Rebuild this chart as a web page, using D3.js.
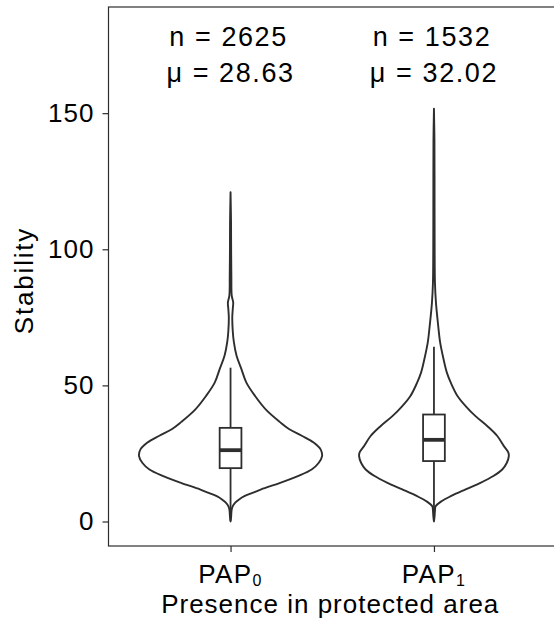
<!DOCTYPE html>
<html>
<head>
<meta charset="utf-8">
<script src="https://cdn.jsdelivr.net/npm/d3@7"></script>
<style>
  html, body { margin: 0; padding: 0; background: #fff; overflow: hidden; }
  svg { display: block; }
  text { font-family: "Liberation Sans", Arial, sans-serif; fill: #000; }
</style>
</head>
<body>
<svg id="chart" width="554" height="631"></svg>
<script>
// ---------------- data ----------------
const categories = ["PAP0", "PAP1"];
const categorySubscripts = ["0", "1"];
const nLabels = ["n = 2625", "n = 1532"];
const meanLabels = ["μ = 28.63", "μ = 32.02"];
const annotationY = [178, 165];
const yTicks = [0, 50, 100, 150];

// violin density profiles (stability value, relative density; 1 = widest violin)
const violinStability0 = [0, 2, 4, 5.5, 7, 8.2, 9.3, 10.5, 11.8, 14.2, 16.7, 19.1, 21.5, 24, 26.5, 29, 31.5, 34, 36.5, 41, 46, 51, 56, 61, 66, 70, 75, 78, 80.5, 83, 90, 100, 110, 121];
const violinDensity0   = [0, 0.007, 0.011, 0.022, 0.054, 0.097, 0.151, 0.238, 0.335, 0.541, 0.735, 0.886, 0.962, 1.0, 0.984, 0.908, 0.778, 0.638, 0.541, 0.389, 0.27, 0.173, 0.119, 0.065, 0.036, 0.024, 0.019, 0.024, 0.029, 0.013, 0.009, 0.0065, 0.0054, 0];
const violinStability1 = [0, 2, 4, 5.6, 7.3, 9.3, 11.8, 14.2, 16.7, 19.1, 21.5, 24, 25.5, 27.7, 31.4, 35, 38.7, 42.4, 46, 51, 54.7, 59.6, 65.7, 73, 80.3, 87.6, 100, 120, 140, 151.6];
const violinDensity1   = [0, 0.007, 0.011, 0.018, 0.076, 0.184, 0.346, 0.508, 0.649, 0.746, 0.795, 0.818, 0.811, 0.764, 0.692, 0.584, 0.454, 0.346, 0.259, 0.184, 0.141, 0.105, 0.068, 0.043, 0.022, 0.011, 0.0076, 0.0065, 0.0054, 0];

// boxplot stats: [whiskerLow, Q1, median, Q3, whiskerHigh]
const boxStats0 = [0.3, 19.6, 26.2, 34.4, 56.5];
const boxStats1 = [0.3, 22.2, 30.0, 39.3, 64.2];

// ---------------- layout ----------------
const svg = d3.select("#chart");
const panel = { left: 108.5, right: 556, top: 7, bottom: 546 };
const ink = "#2e2e2e";
const fontSize = 26;

const x = d3.scalePoint().domain(categories).range([panel.left, panel.right]).padding(0.6);
const y = d3.scaleLinear().domain([-9, 189]).range([panel.bottom, panel.top]);
const halfW = d3.scaleLinear().domain([0, 1]).range([0, 0.45 * x.step()]);

// panel border
svg.append("rect")
  .attr("x", panel.left).attr("y", panel.top)
  .attr("width", panel.right - panel.left).attr("height", panel.bottom - panel.top)
  .attr("fill", "none").attr("stroke", ink).attr("stroke-width", 1.2);

// violins
const violins = [
  { cat: categories[0], v: violinStability0, d: violinDensity0, box: boxStats0 },
  { cat: categories[1], v: violinStability1, d: violinDensity1, box: boxStats1 }
];

violins.forEach(g => {
  const cx = x(g.cat);
  const pts = g.v.map((v, i) => ({ v: v, d: g.d[i] }));
  const area = d3.area()
    .y(p => y(p.v))
    .x0(p => cx - halfW(p.d))
    .x1(p => cx + halfW(p.d))
    .curve(d3.curveCatmullRom.alpha(0.5));
  svg.append("path")
    .attr("d", area(pts))
    .attr("fill", "#fff")
    .attr("stroke", ink)
    .attr("stroke-width", 1.9)
    .attr("stroke-linejoin", "round");

  const bw = 0.107 * x.step() / 2;
  const [wl, q1, med, q3, wh] = g.box;
  svg.append("line")
    .attr("x1", cx).attr("x2", cx).attr("y1", y(wh)).attr("y2", y(q3))
    .attr("stroke", ink).attr("stroke-width", 1.8);
  svg.append("line")
    .attr("x1", cx).attr("x2", cx).attr("y1", y(q1)).attr("y2", y(wl))
    .attr("stroke", ink).attr("stroke-width", 1.8);
  svg.append("rect")
    .attr("x", cx - bw).attr("width", 2 * bw)
    .attr("y", y(q3)).attr("height", y(q1) - y(q3))
    .attr("fill", "#fff").attr("stroke", ink).attr("stroke-width", 1.8);
  svg.append("line")
    .attr("x1", cx - bw).attr("x2", cx + bw).attr("y1", y(med)).attr("y2", y(med))
    .attr("stroke", ink).attr("stroke-width", 3.8);
});

// annotations
categories.forEach((c, i) => {
  svg.append("text")
    .attr("x", x(c) - 2).attr("y", y(annotationY[0])).attr("dy", "0.35em")
    .attr("text-anchor", "middle").attr("font-size", 27)
    .attr("letter-spacing", 1.6)
    .text(nLabels[i]);
  svg.append("text")
    .attr("x", x(c)).attr("y", y(annotationY[1])).attr("dy", "0.35em")
    .attr("text-anchor", "middle").attr("font-size", 27)
    .attr("letter-spacing", 1.6)
    .text(meanLabels[i]);
});

// y axis
const yAxis = svg.append("g")
  .attr("transform", `translate(${panel.left},0)`)
  .call(d3.axisLeft(y).tickValues(yTicks).tickSize(6).tickPadding(8));
yAxis.select(".domain").remove();
yAxis.selectAll(".tick line").attr("stroke", ink).attr("stroke-width", 1.2);
yAxis.selectAll(".tick text")
  .attr("font-size", fontSize).attr("font-family", "Liberation Sans, Arial, sans-serif")
  .attr("fill", "#000").attr("letter-spacing", 1.0);

// x axis
const xAxis = svg.append("g")
  .attr("transform", `translate(0,${panel.bottom})`)
  .call(d3.axisBottom(x).tickSize(6).tickFormat(""));
xAxis.select(".domain").remove();
xAxis.selectAll(".tick line").attr("stroke", ink).attr("stroke-width", 1.2);

categories.forEach((c, i) => {
  const t = svg.append("text")
    .attr("x", x(c)).attr("y", 583)
    .attr("text-anchor", "middle").attr("font-size", fontSize)
    .attr("letter-spacing", 1.4);
  t.append("tspan").text(c.slice(0, 3));
  t.append("tspan").attr("font-size", 16).attr("dy", 3).text(categorySubscripts[i]);
});

// axis titles
svg.append("text")
  .attr("x", (panel.left + panel.right) / 2 - 2).attr("y", 613)
  .attr("text-anchor", "middle").attr("font-size", fontSize)
  .attr("letter-spacing", 1.0)
  .text("Presence in protected area");

svg.append("text")
  .attr("transform", `translate(33,${(panel.top + panel.bottom) / 2 + 4}) rotate(-90)`)
  .attr("text-anchor", "middle").attr("font-size", fontSize)
  .attr("letter-spacing", 1.8)
  .text("Stability");
</script>
</body>
</html>
